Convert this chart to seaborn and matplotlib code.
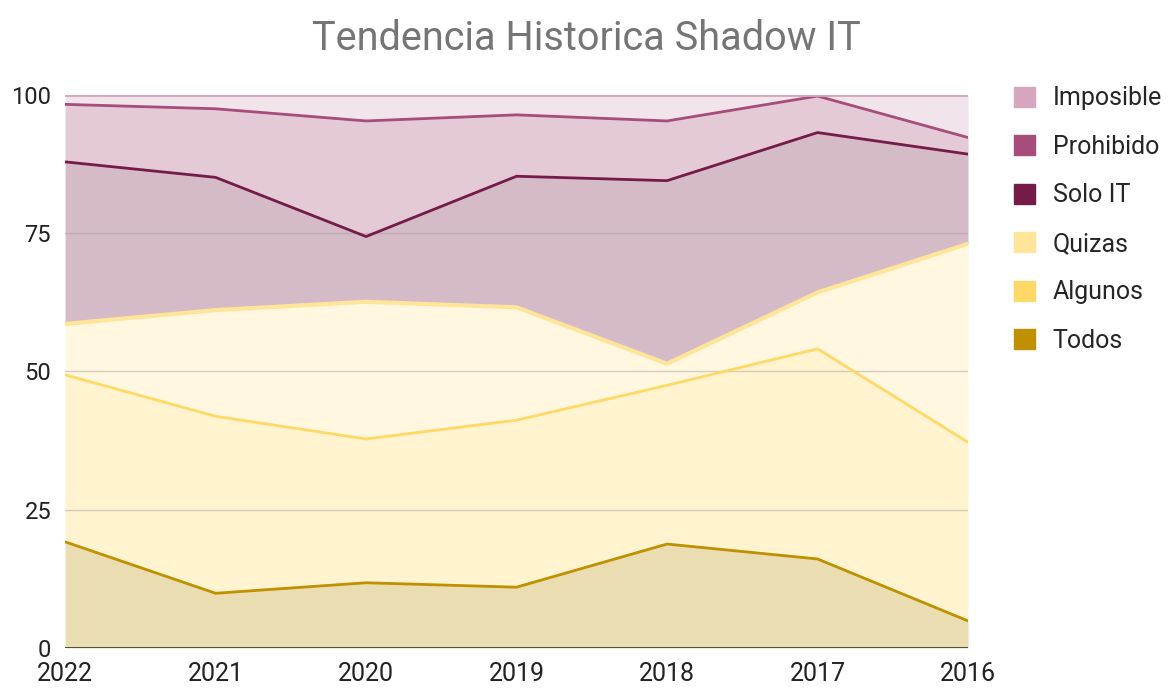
import numpy as np
import pandas as pd
import matplotlib
matplotlib.use("Agg")
import matplotlib.pyplot as plt
import seaborn as sns
from matplotlib.patches import Patch

# ========================
# Datos (porcentajes por año)
# ========================
years = ['2022', '2021', '2020', '2019', '2018', '2017', '2016']
series = ['Todos', 'Algunos', 'Quizas', 'Solo IT', 'Prohibido', 'Imposible']

todos = [19.2, 9.9, 11.8, 11.0, 18.8, 16.1, 4.9]
algunos = [30.2, 32.0, 26.0, 30.2, 28.7, 38.0, 32.3]
quizas = [9.2, 19.2, 24.8, 20.4, 3.9, 10.2, 35.9]
solo_it = [29.3, 24.0, 11.8, 23.7, 33.1, 28.9, 16.2]
prohibido = [10.4, 12.4, 20.9, 11.1, 10.8, 6.6, 3.0]
imposible = [1.7, 2.5, 4.7, 3.6, 4.7, 0.2, 7.7]

colores = ['#bf9000', '#ffd966', '#ffe599', '#741b47', '#a64d79', '#d5a6bd']

df = pd.DataFrame({'Año': years, 'Todos': todos, 'Algunos': algunos,
                   'Quizas': quizas, 'Solo IT': solo_it,
                   'Prohibido': prohibido, 'Imposible': imposible})

# ========================
# Gráfico de áreas apiladas
# ========================
sns.set_style("white")
plt.rcParams['font.family'] = ['Roboto', 'DejaVu Sans']

fig = plt.figure(figsize=(11.68, 6.88), dpi=100)
ax = fig.add_axes([0.0557, 0.0581, 0.7731, 0.8039])

x = np.arange(len(years))
acum = np.zeros(len(years))
for serie, color in zip(series, colores):
    arriba = acum + df[serie].values
    ax.fill_between(x, acum, arriba, color=color, alpha=0.3, linewidth=0, zorder=1)
    lw = 3 if serie == 'Quizas' else 2
    sns.lineplot(x=x, y=arriba, color=color, linewidth=lw, ax=ax, zorder=3)
    acum = arriba

for v in [25, 50, 75, 100]:
    ax.axhline(v, color='#9e9e9e', linewidth=1, alpha=0.45, zorder=2)
ax.axhline(0, color='#333333', linewidth=1.2, zorder=4)

ax.set_xlim(0, len(years) - 1)
ax.set_ylim(0, 100)
ax.set_xticks(x)
ax.set_xticklabels(years)
ax.set_yticks([0, 25, 50, 75, 100])
ax.tick_params(axis='both', colors='#222222', length=0)
ax.tick_params(axis='x', labelsize=18, pad=10)
ax.tick_params(axis='y', labelsize=17, pad=10)
for s in ax.spines.values():
    s.set_visible(False)
ax.set_xlabel('')
ax.set_ylabel('')

fig.suptitle('Tendencia Historica Shadow IT', fontsize=28.5, color='#757575',
             x=0.502, y=0.973)

handles = [Patch(facecolor=c, edgecolor=c, label=s)
           for s, c in zip(series[::-1], colores[::-1])]
fig.legend(handles=handles, loc='upper left', bbox_to_anchor=(0.849, 0.907),
           frameon=False, fontsize=18, handlelength=0.85, handleheight=0.85,
           labelspacing=0.98, handletextpad=0.7)

fig.savefig('out.png', dpi=100)
